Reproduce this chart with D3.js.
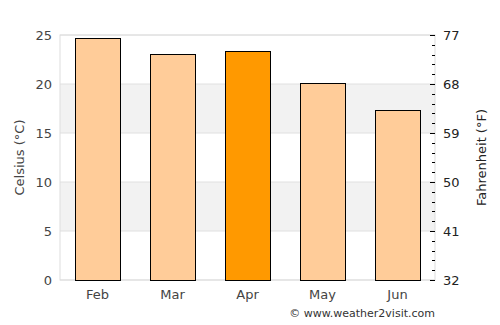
<!DOCTYPE html>
<html>
<head>
<meta charset="utf-8">
<script src="https://cdn.jsdelivr.net/npm/d3@7"></script>
<style>
  body { margin: 0; background: #fff; }
  svg { font-family: "DejaVu Sans", sans-serif; }
</style>
</head>
<body>
<div id="chart"></div>
<script>
const months = ['Feb', 'Mar', 'Apr', 'May', 'Jun'];
const celsius = [24.65, 23.1, 23.35, 20.15, 17.35];
const highlight = 'Apr';
const celsiusTicks = [0, 5, 10, 15, 20, 25];
const fahrenheitTicks = [32, 41, 50, 59, 68, 77];

const svgWidth = 500;
const svgHeight = 325;
const margin = { top: 35, right: 65, bottom: 45, left: 60 };
const width = svgWidth - margin.left - margin.right;
const height = svgHeight - margin.top - margin.bottom;

const svg = d3.select('#chart')
  .append('svg')
  .attr('width', svgWidth)
  .attr('height', svgHeight);

const g = svg.append('g')
  .attr('transform', `translate(${margin.left},${margin.top})`);

const x = d3.scaleBand().domain(months).range([0, width])
  .paddingInner(0.4).paddingOuter(0.2);
const y = d3.scaleLinear().domain([0, 25]).range([height, 0]);
const yF = d3.scaleLinear().domain([32, 77]).range([height, 0]);

// alternating bands
for (let i = 0; i < celsiusTicks.length - 1; i++) {
  if (i % 2 === 1) {
    g.append('rect')
      .attr('x', 0)
      .attr('width', width)
      .attr('y', y(celsiusTicks[i + 1]))
      .attr('height', y(celsiusTicks[i]) - y(celsiusTicks[i + 1]))
      .attr('fill', '#f2f2f2');
  }
}

// grid lines
g.selectAll('.grid')
  .data(celsiusTicks)
  .enter().append('line')
  .attr('x1', 0).attr('x2', width)
  .attr('y1', d => y(d)).attr('y2', d => y(d))
  .attr('stroke', '#e0e0e0');

// frame
g.append('rect')
  .attr('x', 0).attr('y', 0)
  .attr('width', width).attr('height', height)
  .attr('fill', 'none')
  .attr('stroke', '#dddddd');

// bars
g.selectAll('.bar')
  .data(months)
  .enter().append('rect')
  .attr('x', d => x(d) + 0.5)
  .attr('width', x.bandwidth())
  .attr('y', (d, i) => Math.round(y(celsius[i])) + 0.5)
  .attr('height', (d, i) => height - Math.round(y(celsius[i])))
  .attr('fill', d => d === highlight ? '#ff9900' : '#ffcc99')
  .attr('stroke', '#000')
  .attr('stroke-width', 1);

// left axis
const yAxis = d3.axisLeft(y).tickValues(celsiusTicks).tickSize(0).tickPadding(8);
g.append('g')
  .call(yAxis)
  .call(a => a.select('.domain').remove())
  .selectAll('text')
  .attr('fill', '#444')
  .attr('font-size', 13)
  .attr('font-family', '"DejaVu Sans", sans-serif');

// right axis with inward ticks
const minorF = d3.range(0, 26).map(c => 32 + c * 1.8);
g.selectAll('.minor')
  .data(minorF)
  .enter().append('line')
  .attr('x1', width - 3).attr('x2', width)
  .attr('y1', d => Math.round(yF(d)) + 0.5).attr('y2', d => Math.round(yF(d)) + 0.5)
  .attr('stroke', '#000');
g.selectAll('.major')
  .data(fahrenheitTicks)
  .enter().append('line')
  .attr('x1', width - 5).attr('x2', width)
  .attr('y1', d => Math.round(yF(d)) + 0.5).attr('y2', d => Math.round(yF(d)) + 0.5)
  .attr('stroke', '#000');

const yAxisF = d3.axisRight(yF).tickValues(fahrenheitTicks).tickSize(0).tickPadding(8);
g.append('g')
  .attr('transform', `translate(${width},0)`)
  .call(yAxisF)
  .call(a => a.select('.domain').remove())
  .selectAll('text')
  .attr('fill', '#222')
  .attr('font-size', 13)
  .attr('font-family', '"DejaVu Sans", sans-serif');

// x axis
const xAxis = d3.axisBottom(x).tickSize(0).tickPadding(10);
g.append('g')
  .attr('transform', `translate(0,${height})`)
  .call(xAxis)
  .call(a => a.select('.domain').remove())
  .selectAll('text')
  .attr('fill', '#444')
  .attr('font-size', 13)
  .attr('font-family', '"DejaVu Sans", sans-serif');

// axis titles
svg.append('text')
  .attr('transform', `translate(24,${margin.top + height / 2}) rotate(-90)`)
  .attr('text-anchor', 'middle')
  .attr('fill', '#444')
  .attr('font-size', 13)
  .text('Celsius (°C)');

svg.append('text')
  .attr('transform', `translate(486,${margin.top + height / 2}) rotate(-90)`)
  .attr('text-anchor', 'middle')
  .attr('fill', '#222')
  .attr('font-size', 13)
  .text('Fahrenheit (°F)');

svg.append('text')
  .attr('x', margin.left + width)
  .attr('y', 317)
  .attr('text-anchor', 'end')
  .attr('fill', '#333')
  .attr('font-size', 11)
  .text('© www.weather2visit.com');
</script>
</body>
</html>
